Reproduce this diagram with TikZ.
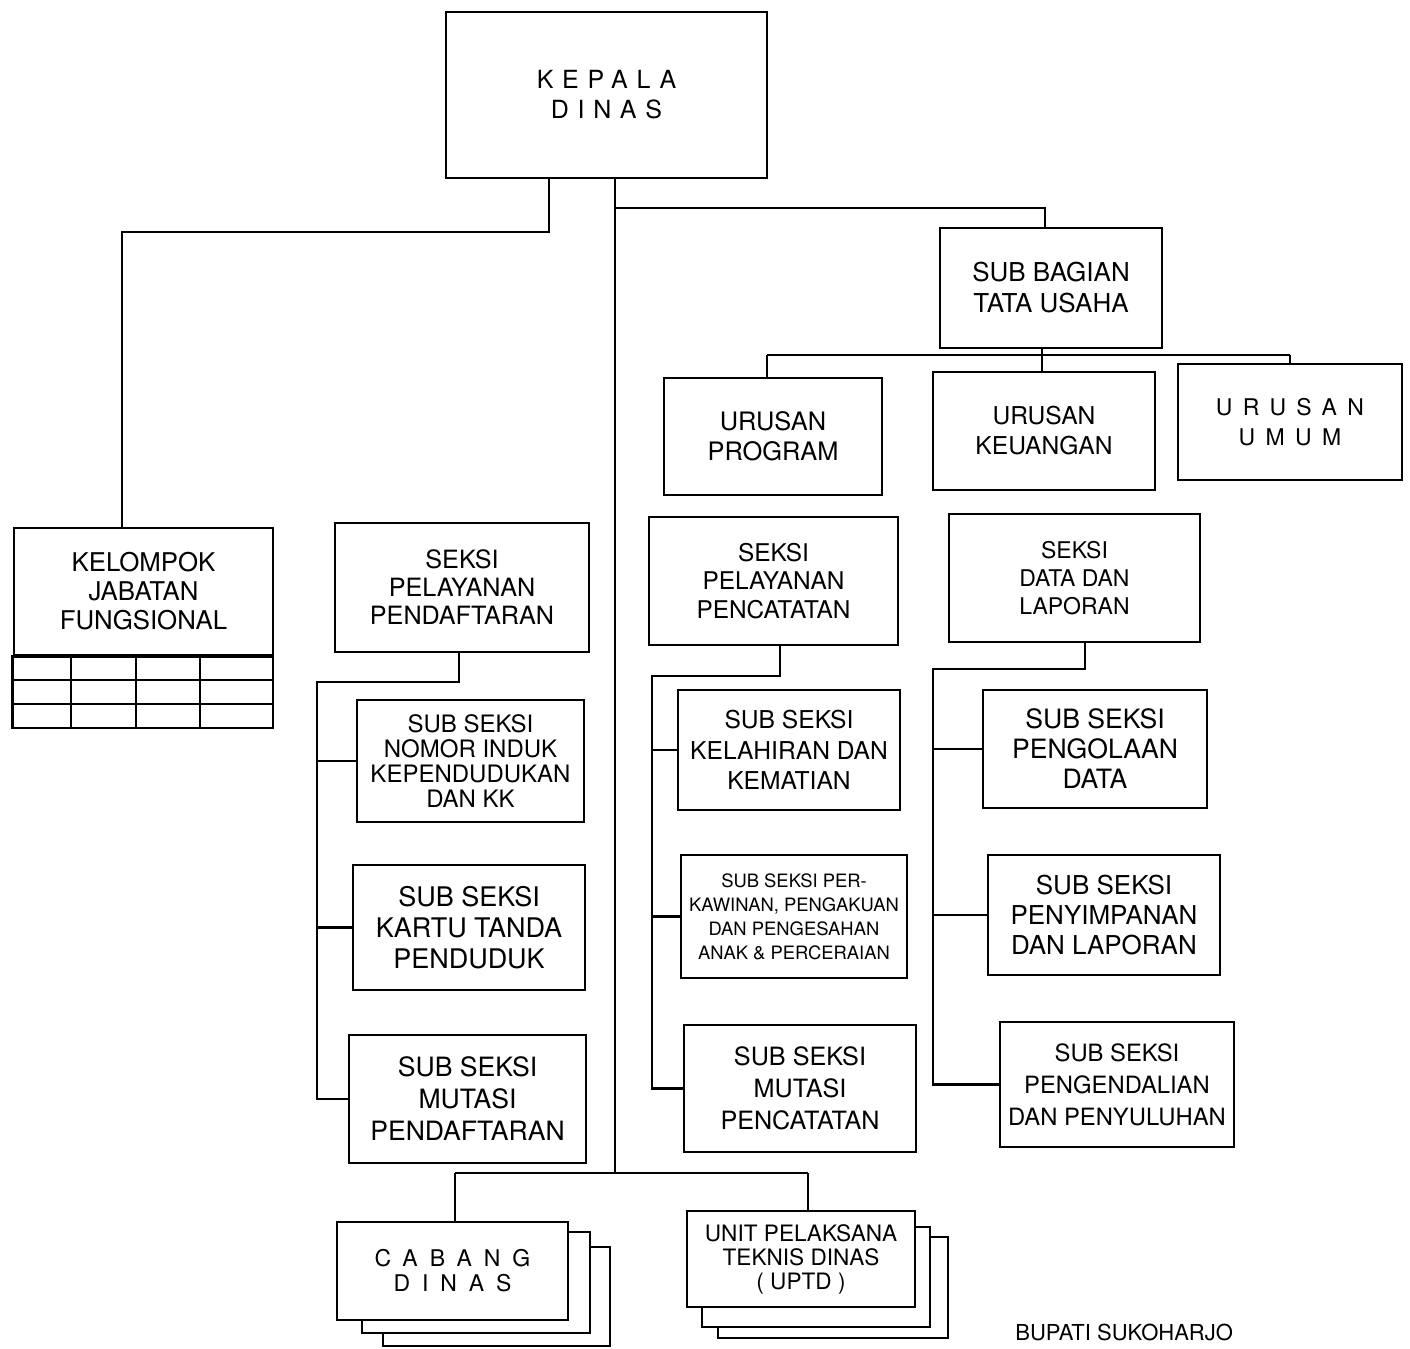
\documentclass[tikz,border=0pt]{standalone}
\usepackage{fontspec}
\setmainfont{TeX Gyre Heros}
\newcommand\myfs[2]{\fontsize{#1}{#2}\selectfont}
\newcommand\myls[1]{\addfontfeature{LetterSpace=#1}}
\tikzset{
  box/.style={draw, line width=1.4pt, fill=white, align=center, inner sep=0pt},
  conn/.style={line width=1.4pt},
}
\begin{document}
\begin{tikzpicture}[x=0.5pt,y=-0.5pt]
\useasboundingbox (0,0) rectangle (1410,1349);

% top
\node[box, minimum width=160.5pt, minimum height=83pt, font={\myfs{12.5}{15}\myls{35}}] (kepala) at (606.5,95)
  {KEPALA\\DINAS};
\node[box, minimum width=111pt, minimum height=60pt, font={\myfs{13}{15.5}}] (sbtu) at (1051,288)
  {SUB BAGIAN\\TATA USAHA};
\node[box, minimum width=109pt, minimum height=58.5pt, font={\myfs{12.7}{15}}] (up) at (773,436.5)
  {URUSAN\\PROGRAM};
\node[box, minimum width=111pt, minimum height=59pt, font={\myfs{12.3}{15}}] (uk) at (1044,431)
  {URUSAN\\KEUANGAN};
\node[box, minimum width=112pt, minimum height=58pt, font={\myfs{11.5}{15}\myls{45}}] (uu) at (1290,422)
  {URUSAN\\UMUM};

% kelompok jabatan fungsional
\node[box, minimum width=129.5pt, minimum height=63.5pt, font={\myfs{12.9}{14.5}}] (kjf) at (143.5,591.5)
  {KELOMPOK\\JABATAN\\FUNGSIONAL};
\draw[conn] (kjf.south west) rectangle (273,728);
\draw[conn] (14,680) -- (273,680);
\draw[conn] (14,704) -- (273,704);
\draw[conn] (71,655) -- (71,728);
\draw[conn] (136,655) -- (136,728);
\draw[conn] (200,655) -- (200,728);

% seksi pelayanan pendaftaran
\node[box, minimum width=127pt, minimum height=64.5pt, font={\myfs{12.6}{14}}] (spp) at (462,587.5)
  {SEKSI\\PELAYANAN\\PENDAFTARAN};
\node[box, minimum width=113.5pt, minimum height=61pt, font={\myfs{12}{12.5}}] (ssn) at (470.5,761)
  {SUB SEKSI\\NOMOR INDUK\\KEPENDUDUKAN\\DAN KK};
\node[box, minimum width=116pt, minimum height=62.5pt, font={\myfs{13.5}{15.5}}] (ssk) at (469,927.5)
  {SUB SEKSI\\KARTU TANDA\\PENDUDUK};
\node[box, minimum width=118.5pt, minimum height=64pt, font={\myfs{13.3}{16}}] (ssm) at (467.5,1099)
  {SUB SEKSI\\MUTASI\\PENDAFTARAN};

% seksi pelayanan pencatatan
\node[box, minimum width=124.5pt, minimum height=64pt, font={\myfs{12.2}{14.25}}] (spc) at (773.5,581)
  {SEKSI\\PELAYANAN\\PENCATATAN};
\node[box, minimum width=111pt, minimum height=60pt, font={\myfs{12.3}{15.25}}] (skl) at (789,750)
  {SUB SEKSI\\KELAHIRAN DAN\\KEMATIAN};
\node[box, minimum width=113pt, minimum height=61.5pt, font={\myfs{9.2}{12}}] (spk) at (794,916.5)
  {SUB SEKSI PER-\\KAWINAN, PENGAKUAN\\DAN PENGESAHAN\\ANAK \& PERCERAIAN};
\node[box, minimum width=116pt, minimum height=63.5pt, font={\myfs{12.6}{16}}] (smp) at (800,1088.5)
  {SUB SEKSI\\MUTASI\\PENCATATAN};

% seksi data dan laporan
\node[box, minimum width=125.5pt, minimum height=64pt, font={\myfs{11.5}{14}}] (sdl) at (1074.5,578)
  {SEKSI\\DATA DAN\\LAPORAN};
\node[box, minimum width=112pt, minimum height=59pt, font={\myfs{13.3}{15}}] (spg) at (1095,749)
  {SUB SEKSI\\PENGOLAAN\\DATA};
\node[box, minimum width=116pt, minimum height=60pt, font={\myfs{13}{15}}] (sps) at (1104,915)
  {SUB SEKSI\\PENYIMPANAN\\DAN LAPORAN};
\node[box, minimum width=117pt, minimum height=62.5pt, font={\myfs{11.9}{16}}] (spn) at (1117,1084.5)
  {SUB SEKSI\\PENGENDALIAN\\DAN PENYULUHAN};

% cabang dinas (stacked)
\node[box, minimum width=113.5pt, minimum height=49.5pt] (cabang3) at (496.5,1296.5) {};
\node[box, minimum width=114pt, minimum height=50.5pt] (cabang2) at (476,1282.5) {};
\node[box, minimum width=115.5pt, minimum height=49pt, font={\myfs{11.5}{12.5}\myls{52}}] (cabang) at (452.5,1271)
  {CABANG\\DINAS};

% uptd (stacked)
\node[box, minimum width=115pt, minimum height=50.5pt] (uptd3) at (833,1287.5) {};
\node[box, minimum width=114pt, minimum height=50pt] (uptd2) at (816,1277) {};
\node[box, minimum width=114pt, minimum height=48pt, font={\myfs{11.3}{12}}] (uptd) at (801,1259)
  {UNIT PELAKSANA\\TEKNIS DINAS\\( UPTD )};

\node[anchor=base west, inner sep=0pt, font={\myfs{11}{12}}] (bupati) at (1015,1340)
  {BUPATI SUKOHARJO};

% junction coordinates
\coordinate (j1) at (549,232);
\coordinate (j2) at (122,232);
\coordinate (tb) at (615,1173);
\coordinate (j3) at (615,208);
\coordinate (j4) at (1045,208);
\coordinate (u0) at (1042,355);
\coordinate (u1) at (767,355);
\coordinate (u3) at (1290,355);
\coordinate (a0) at (459,682);
\coordinate (a1) at (317,682);
\coordinate (b0) at (780,676);
\coordinate (b1) at (652,676);
\coordinate (c0) at (1085,669);
\coordinate (c1) at (933,669);
\coordinate (cb) at (455,1173);
\coordinate (ub) at (808,1173);

% connectors
\draw[conn] (kepala.south -| j1) -- (j1) -- (j2) -- (kjf.north -| j2);
\draw[conn] (kepala.south -| tb) -- (tb);
\draw[conn] (j3) -- (j4) -- (sbtu.north -| j4);
\draw[conn] (sbtu.south -| u0) -- (u0);
\draw[conn] (u1) -- (u3);
\draw[conn] (u1) -- (up.north -| u1);
\draw[conn] (u0) -- (uk.north -| u0);
\draw[conn] (u3) -- (uu.north);

\draw[conn] (spp.south -| a0) -- (a0) -- (a1) |- (ssm.west);
\draw[conn] (a1 |- ssn.west) -- (ssn.west);
\draw[conn] (a1 |- ssk.west) -- (ssk.west);

\draw[conn] (spc.south -| b0) -- (b0) -- (b1) |- (smp.west);
\draw[conn] (b1 |- skl.west) -- (skl.west);
\draw[conn] (b1 |- spk.west) -- (spk.west);

\draw[conn] (sdl.south -| c0) -- (c0) -- (c1) |- (spn.west);
\draw[conn] (c1 |- spg.west) -- (spg.west);
\draw[conn] (c1 |- sps.west) -- (sps.west);

\draw[conn] (cb) -- (ub);
\draw[conn] (cb) -- (cabang.north -| cb);
\draw[conn] (ub) -- (uptd.north -| ub);
\end{tikzpicture}
\end{document}
